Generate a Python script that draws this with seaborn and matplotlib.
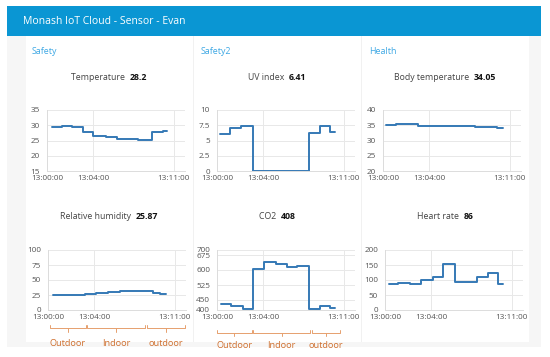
import matplotlib
matplotlib.use("Agg")
import matplotlib.pyplot as plt
from matplotlib.patches import Rectangle
import pandas as pd
import seaborn as sns

sns.set_theme(style="white")
plt.rcParams["font.family"] = ["Open Sans", "DejaVu Sans"]

# minutes after 13:00:00, step readings
temp_t = [0.43, 1.3, 2.2, 3.1, 4.0, 5.15, 6.1, 7.9, 9.1, 10.1, 10.45]
temp_v = [29.5, 29.8, 29.5, 27.7, 26.5, 26.0, 25.5, 25.2, 27.7, 28.2, 28.2]

uv_t = [0.26, 1.13, 2.06, 3.1, 8.0, 8.96, 9.83, 10.26]
uv_v = [6.0, 7.0, 7.3, 0.0, 6.2, 7.3, 6.41, 6.41]

body_t = [0.26, 1.13, 3.0, 6.1, 8.0, 9.9, 10.4]
body_v = [35.0, 35.3, 34.9, 34.6, 34.4, 34.05, 34.05]

rh_t = [0.46, 3.2, 4.17, 5.2, 6.26, 8.15, 9.1, 9.74, 10.3]
rh_v = [24.8, 27.0, 28.5, 30.0, 31.0, 32.5, 28.0, 25.87, 25.87]

co2_t = [0.35, 1.22, 2.26, 3.13, 4.09, 5.13, 6.09, 6.96, 8.0, 8.96, 9.83, 10.26]
co2_v = [430, 420, 405, 606, 640, 628, 615, 618, 405, 420, 408, 408]

hr_t = [0.35, 1.13, 2.17, 3.1, 4.15, 5.07, 6.09, 8.0, 8.93, 9.85, 10.23]
hr_v = [86, 91, 86, 99, 109, 153, 92, 109, 122, 86, 86]

x_ticks = [0, 4, 11]
x_labels = ["13:00:00", "13:04:00", "13:11:00"]

names = ["Temperature", "UV index", "Body temperature",
         "Relative humidity", "CO2", "Heart rate"]
readings = ["28.2", "6.41", "34.05", "25.87", "408", "86"]
y_ticks = [[15, 20, 25, 30, 35], [0, 2.5, 5, 7.5, 10], [20, 25, 30, 35, 40],
           [0, 25, 50, 75, 100], [400, 450, 525, 600, 675, 700], [0, 50, 100, 150, 200]]
columns = ["Safety", "Safety2", "Health"]

place_labels = ["Outdoor", "Indoor", "outdoor"]
rh_spans = [(0.17, 3.3), (3.4, 8.43), (8.6, 11.9)]
co2_spans = [(0.0, 3.04), (3.13, 8.09), (8.26, 10.7)]

series = [(temp_t, temp_v), (uv_t, uv_v), (body_t, body_v),
          (rh_t, rh_v), (co2_t, co2_v), (hr_t, hr_v)]

W, H = 550, 357
fig = plt.figure(figsize=(5.5, 3.57), dpi=100)
fig.patch.set_facecolor("white")


def fx(x):
    return x / W


def fy(y):
    return 1 - y / H


def box(x0, y0, x1, y1, color):
    fig.add_artist(Rectangle((fx(x0), fy(y1)), fx(x1) - fx(x0), fy(y0) - fy(y1),
                             transform=fig.transFigure, facecolor=color,
                             edgecolor="none", zorder=0))


# page chrome
box(7, 6, 541, 347, "#f6f6f6")
box(7, 6, 541, 36, "#0a96d3")
box(26, 36, 529, 342, "white")
for xs in [193, 361]:
    box(xs, 36, xs + 1, 342, "#f1f1f1")
fig.text(fx(23), fy(21), "Monash IoT Cloud - Sensor - Evan", color="white",
         fontsize=7.5, va="center", ha="left")
for lx, lab in zip([32, 201, 369], columns):
    fig.text(fx(lx), fy(52), lab, color="#3ea8e4", fontsize=6.4, va="center")

col_left = [[47, 217, 383], [48, 217, 385]]
row_box = [(110, 171), (250, 310)]
title_y = [77, 217]
col_center = [109, 277, 445]
line_color = "#3579b5"

fig.canvas.draw()
renderer = fig.canvas.get_renderer()

for i, (ts, vs) in enumerate(series):
    r, c = divmod(i, 3)
    top, bot = row_box[r]
    left = col_left[r][c]
    ax = fig.add_axes([fx(left), fy(bot), fx(138), (bot - top) / H])
    ax.set_facecolor("none")
    df = pd.DataFrame({"t": ts, "v": vs})
    sns.lineplot(data=df, x="t", y="v", ax=ax, color=line_color, linewidth=1.4,
                 drawstyle="steps-post", estimator=None, sort=False)
    yt = y_ticks[i]
    ax.set_xlim(0, 12)
    ax.set_ylim(yt[0], yt[-1])
    ax.set_yticks(yt)
    ax.set_yticklabels([("%g" % v) for v in yt])
    ax.set_xticks(x_ticks)
    ax.set_xticklabels(x_labels)
    ax.set_xlabel("")
    ax.set_ylabel("")
    ax.grid(True, color="#e8e8e8", linewidth=0.7)
    for s in ["top", "right"]:
        ax.spines[s].set_visible(False)
    for s in ["left", "bottom"]:
        ax.spines[s].set_color("#dcdcdc")
        ax.spines[s].set_linewidth(0.7)
    ax.tick_params(axis="both", length=0, labelsize=5.9, labelcolor="#555555")
    ax.tick_params(axis="y", pad=5)
    ax.tick_params(axis="x", pad=3)

    # panel title: name + bold reading, centred over the column
    t1 = fig.text(0, fy(title_y[r]), names[i] + "  ", fontsize=6.3,
                  color="#444444", va="center", ha="left")
    t2 = fig.text(0, fy(title_y[r]), readings[i], fontsize=6.3,
                  color="#111111", fontweight="bold", va="center", ha="left")
    w1 = t1.get_window_extent(renderer).width
    w2 = t2.get_window_extent(renderer).width
    x_start = col_center[c] - (w1 + w2) / 2
    t1.set_x(fx(x_start))
    t2.set_x(fx(x_start + w1))

    if i in (3, 4):
        spans = rh_spans if i == 3 else co2_spans
        by, ty = (-0.30, -0.56) if i == 3 else (-0.38, -0.59)
        tr = ax.get_xaxis_transform()
        for (a, b), lab in zip(spans, place_labels):
            m = (a + b) / 2
            ax.plot([a, a, b, b], [by + 0.05, by, by, by + 0.05], color="#e6a06e",
                    linewidth=0.7, transform=tr, clip_on=False)
            ax.plot([m, m], [by, by - 0.06], color="#e6a06e", linewidth=0.7,
                    transform=tr, clip_on=False)
            ax.text(m, ty, lab, transform=tr, ha="center", va="center",
                    fontsize=6.6, color="#cf6f2e")

fig.savefig("out.png", dpi=100, facecolor="white")
